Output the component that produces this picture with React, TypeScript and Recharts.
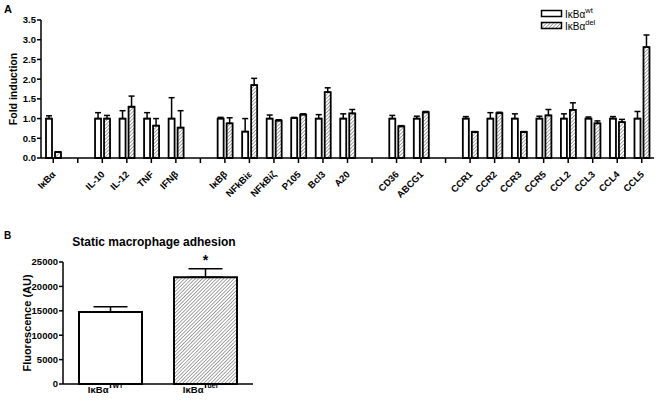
import { BarChart, Bar, XAxis, YAxis, ErrorBar, Cell, ReferenceDot } from 'recharts';

// panel A: fold induction per gene ('' = spacer between gene groups)
const genes = ['IκBα', '', 'IL-10', 'IL-12', 'TNF', 'IFNβ', '', 'IκBβ', 'NFkBiε', 'NFkBiζ', 'P105', 'Bcl3', 'A20', '', 'CD36', 'ABCG1', '', 'CCR1', 'CCR2', 'CCR3', 'CCR5', 'CCL2', 'CCL3', 'CCL4', 'CCL5'];
const wtFold = [1.0, null, 1.0, 1.0, 1.0, 1.0, null, 1.0, 0.67, 1.0, 1.01, 1.0, 1.0, null, 1.0, 1.0, null, 1.0, 1.0, 1.0, 1.0, 1.0, 1.0, 1.0, 1.0];
const wtSem = [0.07, null, 0.15, 0.2, 0.15, 0.53, null, 0.03, 0.33, 0.09, 0.02, 0.1, 0.12, null, 0.08, 0.06, null, 0.05, 0.15, 0.12, 0.06, 0.12, 0.04, 0.05, 0.18];
const delFold = [0.15, null, 1.0, 1.3, 0.82, 0.77, null, 0.88, 1.85, 0.95, 1.1, 1.67, 1.13, null, 0.8, 1.16, null, 0.66, 1.14, 0.66, 1.08, 1.22, 0.88, 0.91, 2.81];
const delSem = [0.01, null, 0.08, 0.27, 0.18, 0.43, null, 0.14, 0.17, 0.02, 0.02, 0.11, 0.1, null, 0.02, 0.02, null, 0.01, 0.02, 0.01, 0.15, 0.18, 0.06, 0.07, 0.31];
const foldTicks = [0, 0.5, 1, 1.5, 2, 2.5, 3, 3.5];

// panel B: static adhesion
const groups = ['WT', 'del'];
const adhesion = [14750, 21860];
const adhesionSem = [1090, 1770];
const adhesionTicks = [0, 5000, 10000, 15000, 20000, 25000];
const starAt = 26000;

const FONT = '"Liberation Sans", Arial, sans-serif';
const HATCH = 'url(#hatch)';

const foldData = genes.map((name, i) => ({
  name,
  wt: wtFold[i],
  wtErr: wtSem[i] == null ? null : [0, wtSem[i]],
  del: delFold[i],
  delErr: delSem[i] == null ? null : [0, delSem[i]],
}));

const adhesionData = groups.map((g, i) => ({
  name: g,
  value: adhesion[i],
  err: [0, adhesionSem[i]],
}));

function GeneTick({ x, y, payload }: any) {
  if (!payload.value) return null;
  const ax = x + 3;
  const ay = y + 10;
  return (
    <text x={ax} y={ay} textAnchor="end" fontSize={9.5} fontWeight="bold" fontFamily={FONT} fill="#000"
      transform={`rotate(-45, ${ax}, ${ay})`}>
      {payload.value}
    </text>
  );
}

function GroupTick({ x, y, payload }: any) {
  return (
    <g fontFamily={FONT} fontWeight="bold" fill="#000">
      <text x={x - 2} y={y + 3} textAnchor="end" fontSize={9.5}>IκBα</text>
      <text x={x + 2} y={y - 2} textAnchor="start" fontSize={7}>{payload.value}</text>
    </g>
  );
}

function Hatch() {
  return (
    <defs>
      <pattern id="hatch" patternUnits="userSpaceOnUse" width={2.5} height={2.5} patternTransform="rotate(45)">
        <rect width={2.5} height={2.5} fill="#fff" />
        <line x1={0} y1={0} x2={0} y2={2.5} stroke="#4a4a4a" strokeWidth={1} />
      </pattern>
    </defs>
  );
}

const tickStyle = { fontSize: 9.5, fontWeight: 'bold', fill: '#000', fontFamily: FONT };

export default function App() {
  return (
    <div style={{ position: 'absolute', left: 0, top: 0, width: 661, height: 401, background: '#fff', fontFamily: FONT }}>
      <div style={{ position: 'absolute', left: 0, top: 0 }}>
        <BarChart width={661} height={230} data={foldData} margin={{ top: 20, right: 7, left: 0, bottom: 0 }}
          barSize={6} barGap={3}>
          <Hatch />
          <XAxis dataKey="name" interval={0} height={72} tickSize={5} tickMargin={2}
            tick={<GeneTick />} axisLine={{ stroke: '#000', strokeWidth: 1.5 }} tickLine={{ stroke: '#000', strokeWidth: 1.5 }} />
          <YAxis width={41} domain={[0, 3.5]} ticks={foldTicks} tickSize={4} tickMargin={1}
            tickFormatter={(v: number) => v.toFixed(1)} tick={tickStyle}
            axisLine={{ stroke: '#000', strokeWidth: 1.5 }} tickLine={{ stroke: '#000', strokeWidth: 1.5 }} />
          <Bar dataKey="wt" fill="#fff" stroke="#000" strokeWidth={1.8} isAnimationActive={false}>
            <ErrorBar dataKey="wtErr" width={3} stroke="#000" strokeWidth={1.5} direction="y" />
          </Bar>
          <Bar dataKey="del" fill={HATCH} stroke="#000" strokeWidth={1.8} isAnimationActive={false}>
            <ErrorBar dataKey="delErr" width={3} stroke="#000" strokeWidth={1.5} direction="y" />
          </Bar>
        </BarChart>
      </div>

      <div style={{ position: 'absolute', left: 0, top: 240 }}>
        <BarChart width={260} height={161} data={adhesionData} margin={{ top: 22, right: 7, left: 0, bottom: 0 }}
          barSize={63}>
          <Hatch />
          <XAxis dataKey="name" interval={0} height={17} tickSize={4} tickMargin={2}
            tick={<GroupTick />} axisLine={{ stroke: '#000', strokeWidth: 1.5 }} tickLine={{ stroke: '#000', strokeWidth: 1.5 }} />
          <YAxis width={63} domain={[0, 25000]} ticks={adhesionTicks} tickSize={4} tickMargin={1}
            tick={tickStyle} axisLine={{ stroke: '#000', strokeWidth: 1.5 }} tickLine={{ stroke: '#000', strokeWidth: 1.5 }} />
          <Bar dataKey="value" stroke="#000" strokeWidth={2} isAnimationActive={false}>
            <Cell fill="#fff" />
            <Cell fill={HATCH} />
            <ErrorBar dataKey="err" width={17} stroke="#000" strokeWidth={1.5} direction="y" />
          </Bar>
          <ReferenceDot x="del" y={starAt} ifOverflow="visible" isFront
            shape={(p: any) => (
              <text x={p.cx} y={p.cy + 8} textAnchor="middle" fontSize={14} fontWeight="bold" fontFamily={FONT}>*</text>
            )} />
        </BarChart>
      </div>

      <svg width={661} height={401} style={{ position: 'absolute', left: 0, top: 0, pointerEvents: 'none' }}
        fontFamily={FONT}>
        <Hatch />
        <text x={4} y={13} fontSize={11} fontWeight="bold">A</text>
        <text x={0} y={0} fontSize={10.5} fontWeight="bold" textAnchor="middle"
          transform="translate(17, 89) rotate(-90)">Fold induction</text>

        <rect x={541.5} y={10.5} width={20} height={6} fill="#fff" stroke="#000" strokeWidth={1.5} />
        <text x={565} y={18} fontSize={10}>IκBα<tspan fontSize={7.5} dy={-5}>wt</tspan></text>
        <rect x={541.5} y={22.5} width={20} height={6} fill={HATCH} stroke="#000" strokeWidth={1.5} />
        <text x={565} y={30} fontSize={10}>IκBα<tspan fontSize={7.5} dy={-5}>del</tspan></text>

        <text x={4} y={239} fontSize={10} fontWeight="bold">B</text>
        <text x={154} y={246} fontSize={12} fontWeight="bold" textAnchor="middle">Static macrophage adhesion</text>
        <text x={0} y={0} fontSize={11} fontWeight="bold" textAnchor="middle"
          transform="translate(31, 323) rotate(-90)">Fluorescence (AU)</text>
      </svg>
    </div>
  );
}
